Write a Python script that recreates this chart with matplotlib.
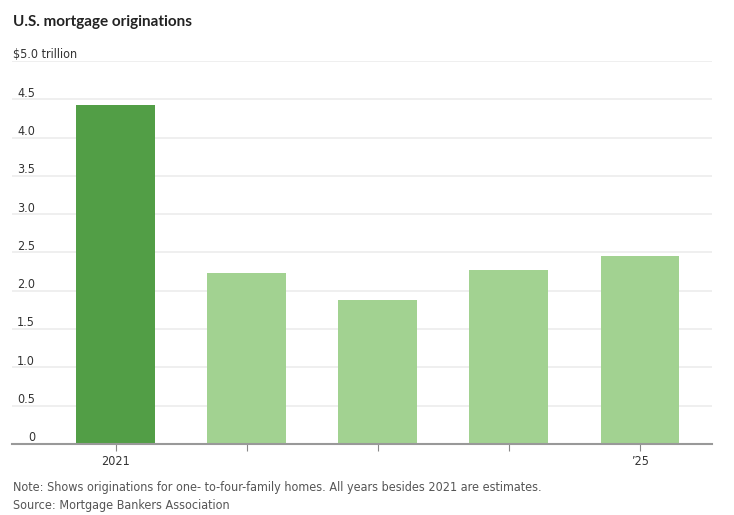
import matplotlib
import matplotlib.pyplot as plt
from matplotlib.transforms import blended_transform_factory

matplotlib.rcParams["font.family"] = ["DejaVu Sans"]
matplotlib.rcParams["font.stretch"] = "condensed"

years = ["2021", "2022", "2023", "2024", "2025"]
values = [4.43, 2.23, 1.88, 2.27, 2.45]
tick_text = ["2021", "", "", "", "\u201925"]
y_ticks = [0, 0.5, 1.0, 1.5, 2.0, 2.5, 3.0, 3.5, 4.0, 4.5, 5.0]
y_labels = ["0", "0.5", "1.0", "1.5", "2.0", "2.5", "3.0", "3.5", "4.0", "4.5", "$5.0 trillion"]

W, H = 734, 515
fig = plt.figure(figsize=(W / 100, H / 100), dpi=100)
ax = fig.add_axes([12 / W, (H - 444) / H, 700 / W, (444 - 61) / H])

colors = ["#529e46"] + ["#a2d291"] * 4
x = list(range(len(years)))
ax.bar(x, values, width=0.6, color=colors, zorder=2)

ax.set_xlim(-0.79, 4.55)
ax.set_ylim(0, 5.0)
ax.set_yticks(y_ticks)
ax.set_yticklabels([])
ax.tick_params(axis="y", length=0)
ax.grid(axis="y", color="#ececec", linewidth=1.2, zorder=0)

# numbers right aligned, top label starts at the left edge
trans = blended_transform_factory(fig.transFigure, ax.transData)
for v, lab in zip(y_ticks[:-1], y_labels[:-1]):
    ax.text(35 / W, v - 0.005, lab, transform=trans, fontsize=9,
            color="#333333", ha="right", va="bottom")
ax.text(13 / W, y_ticks[-1] - 0.005, y_labels[-1], transform=trans, fontsize=9,
        color="#333333", ha="left", va="bottom")

ax.set_xticks(x)
ax.set_xticklabels(tick_text, fontsize=9, color="#333333")
ax.tick_params(axis="x", length=5, color="#888888", pad=3)

for s in ["top", "right", "left"]:
    ax.spines[s].set_visible(False)
ax.spines["bottom"].set_color("#999999")
ax.spines["bottom"].set_linewidth(1.5)
ax.spines["bottom"].set_zorder(3)

fig.text(13 / W, 1 - 22 / H, "U.S. mortgage originations", fontsize=11,
         fontweight="bold", color="#222222", va="center",
         family=["Lato", "DejaVu Sans"], stretch="normal")
fig.text(13 / W, 1 - 488 / H,
         "Note: Shows originations for one- to-four-family homes. All years besides 2021 are estimates.",
         fontsize=9, color="#555555", va="center")
fig.text(13 / W, 1 - 505 / H, "Source: Mortgage Bankers Association",
         fontsize=9, color="#555555", va="center")

fig.savefig("out.png", dpi=100)
